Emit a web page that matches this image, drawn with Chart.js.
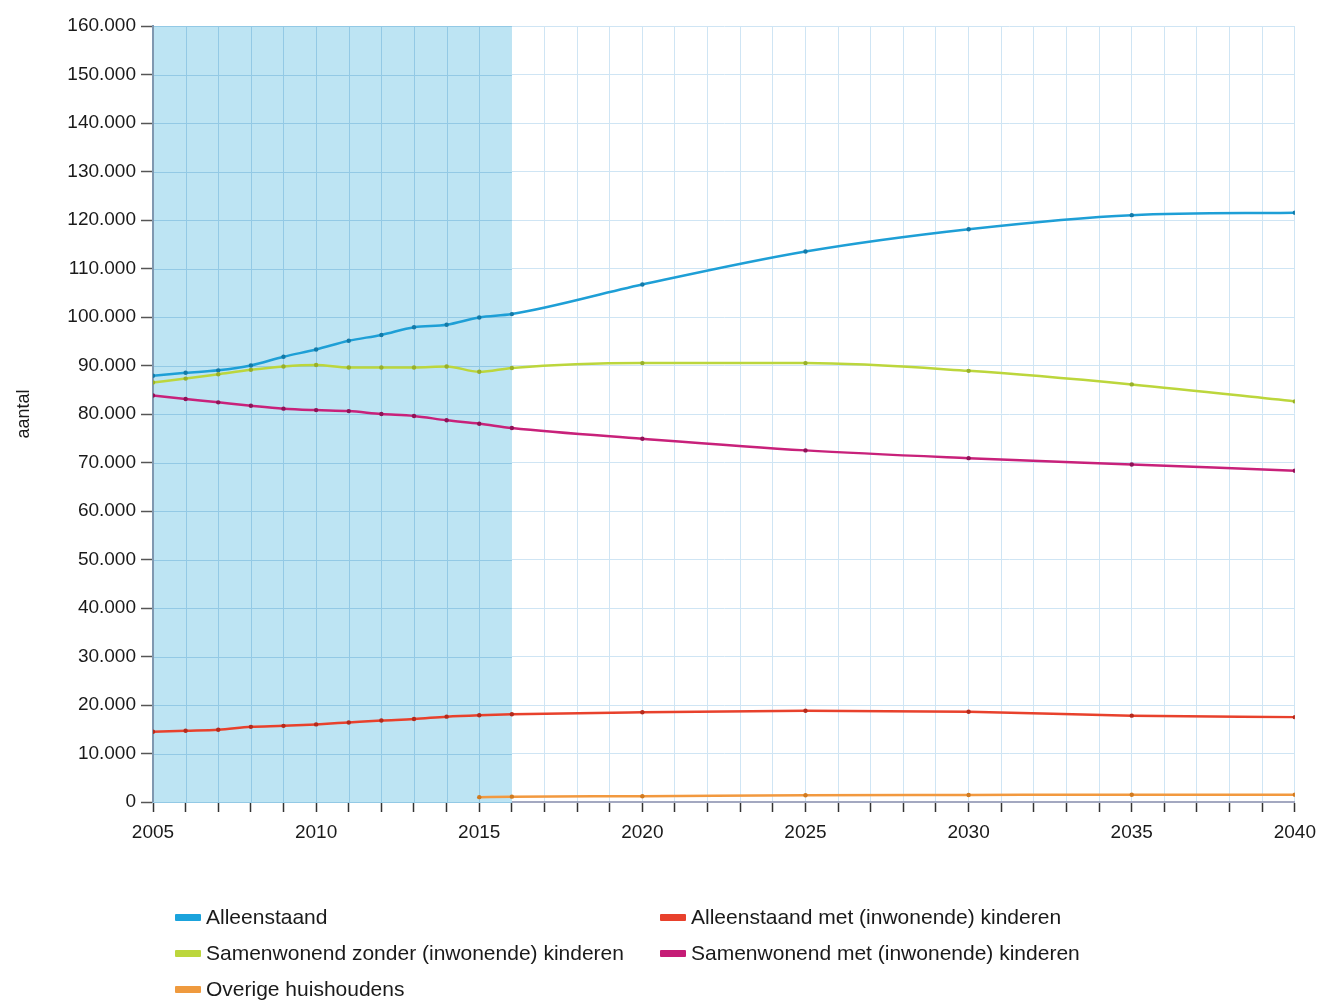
<!DOCTYPE html>
<html>
<head>
<meta charset="utf-8">
<script src="https://cdn.jsdelivr.net/npm/chart.js@4.4.1/dist/chart.umd.min.js"></script>
<style>
  html, body { margin: 0; padding: 0; background: #fff; }
  body { width: 1319px; height: 1001px; position: relative; overflow: hidden; font-family: "Liberation Sans", Arial, sans-serif; }
  #wrap { position: absolute; left: 0; top: 0; width: 1325px; height: 880px; }
  #legend { position: absolute; left: 0; top: 0; width: 1319px; height: 1001px; pointer-events: none; }
  .item { position: absolute; font-size: 21px; color: #1a1a1a; white-space: nowrap; line-height: 24px; }
  .sw { position: absolute; width: 26px; height: 7px; border-radius: 1px; }
</style>
</head>
<body>
<div id="wrap"><canvas id="c" width="1325" height="880"></canvas></div>
<div id="legend"></div>
<script>
// ---------- data ----------
const years = [2005, 2006, 2007, 2008, 2009, 2010, 2011, 2012, 2013, 2014, 2015, 2016, 2020, 2025, 2030, 2035, 2040];
const seriesNames = [
  "Alleenstaand",
  "Alleenstaand met (inwonende) kinderen",
  "Samenwonend zonder (inwonende) kinderen",
  "Samenwonend met (inwonende) kinderen",
  "Overige huishoudens"
];
const alleenstaand = [87900, 88500, 89000, 90000, 91800, 93300, 95100, 96300, 97900, 98400, 99900, 100600, 106700, 113500, 118100, 121000, 121500];
const alleenstaandMetKinderen = [14500, 14700, 14900, 15500, 15700, 16000, 16400, 16800, 17100, 17600, 17900, 18100, 18500, 18800, 18600, 17800, 17500];
const samenZonderKinderen = [86500, 87300, 88200, 89100, 89800, 90100, 89600, 89600, 89600, 89800, 88700, 89500, 90500, 90500, 88900, 86100, 82600];
const samenMetKinderen = [83800, 83100, 82400, 81700, 81100, 80800, 80600, 80000, 79600, 78700, 78000, 77100, 74900, 72500, 70900, 69600, 68300];
const overige = [null, null, null, null, null, null, null, null, null, null, 1000, 1100, 1200, 1400, 1450, 1500, 1500];
const shadeFrom = 2005, shadeTo = 2016;
const yTickMax = 160000, yTickStep = 10000;
const yTitle = "aantal";

// ---------- styles ----------
const lineColors = ['#1e9fd6', '#e8412c', '#bcd63c', '#c8217a', '#f2993f'];
const pointColors = ['#137aa8', '#b52a1c', '#98b02a', '#8f1357', '#d07a20'];
const seriesData = [alleenstaand, alleenstaandMetKinderen, samenZonderKinderen, samenMetKinderen, overige];
const drawOrder = [4, 1, 3, 2, 0];

function fmt(v) {
  return String(Math.round(v)).replace(/\B(?=(\d{3})+(?!\d))/g, '.');
}

const datasets = drawOrder.map(i => ({
  label: seriesNames[i],
  data: years.map((x, k) => ({ x: x, y: seriesData[i][k] })),
  borderColor: lineColors[i],
  backgroundColor: lineColors[i],
  borderWidth: 2.5,
  pointRadius: 2.2,
  pointBackgroundColor: pointColors[i],
  pointBorderWidth: 0,
  cubicInterpolationMode: 'monotone',
  spanGaps: false,
  fill: false
}));

const shadePlugin = {
  id: 'shade',
  beforeDatasetsDraw(chart) {
    const { ctx, chartArea, scales } = chart;
    const x0 = scales.x.getPixelForValue(shadeFrom);
    const x1 = scales.x.getPixelForValue(shadeTo);
    ctx.save();
    ctx.fillStyle = '#bde4f3';
    ctx.fillRect(x0, chartArea.top, x1 - x0, chartArea.bottom - chartArea.top);
    ctx.strokeStyle = '#93c9e5';
    ctx.lineWidth = 1;
    scales.y.ticks.forEach(t => {
      const y = Math.round(scales.y.getPixelForValue(t.value)) + 0.5;
      ctx.beginPath(); ctx.moveTo(x0, y); ctx.lineTo(x1, y); ctx.stroke();
    });
    scales.x.ticks.forEach(t => {
      if (t.value > shadeFrom && t.value < shadeTo) {
        const x = Math.round(scales.x.getPixelForValue(t.value)) + 0.5;
        ctx.beginPath(); ctx.moveTo(x, chartArea.top); ctx.lineTo(x, chartArea.bottom); ctx.stroke();
      }
    });
    ctx.strokeStyle = '#8098b0';
    ctx.lineWidth = 2;
    ctx.beginPath(); ctx.moveTo(chartArea.left, chartArea.top); ctx.lineTo(chartArea.left, chartArea.bottom); ctx.stroke();
    ctx.restore();
  }
};

Chart.defaults.font.family = '"Liberation Sans", Arial, sans-serif';
Chart.defaults.color = '#1a1a1a';

new Chart(document.getElementById('c'), {
  type: 'line',
  data: { datasets: datasets },
  options: {
    responsive: false,
    animation: false,
    layout: { padding: { left: 0, right: 25, top: 26, bottom: 0 } },
    plugins: { legend: { display: false }, tooltip: { enabled: false } },
    scales: {
      x: {
        type: 'linear',
        min: years[0],
        max: years[years.length - 1],
        afterFit(s) { s.height = 78; },
        ticks: {
          stepSize: 1,
          autoSkip: false,
          maxRotation: 0,
          padding: 9,
          font: { size: 19 },
          color: '#1a1a1a',
          callback: v => (v % 5 === 0 ? String(v) : '')
        },
        grid: {
          color: '#cfe5f4',
          lineWidth: 1,
          drawTicks: true,
          tickLength: 10,
          tickColor: '#333',
          tickWidth: 1.5
        },
        border: { display: true, color: '#a3a8c0', width: 2 }
      },
      y: {
        min: 0,
        max: yTickMax,
        afterFit(s) { s.width = 153; },
        title: { display: true, text: yTitle, font: { size: 18 }, color: '#1a1a1a', padding: { top: 13, bottom: 0 } },
        ticks: {
          stepSize: yTickStep,
          font: { size: 19 },
          color: '#1a1a1a',
          padding: 5,
          callback: v => fmt(v)
        },
        grid: {
          color: '#cfe5f4',
          lineWidth: 1,
          drawTicks: true,
          tickLength: 12,
          tickColor: '#555',
          tickWidth: 1.5
        },
        border: { display: true, color: '#8098b0', width: 2 }
      }
    }
  },
  plugins: [shadePlugin]
});

// ---------- legend (HTML, from the same arrays) ----------
const legendLayout = [
  { i: 0, x: 175, y: 917 },
  { i: 1, x: 660, y: 917 },
  { i: 2, x: 175, y: 953 },
  { i: 3, x: 660, y: 953 },
  { i: 4, x: 175, y: 989 }
];
const legendColors = ['#1ba3dc', '#e8412c', '#bcd63c', '#c51c76', '#ef9a3e'];
const lg = document.getElementById('legend');
legendLayout.forEach(L => {
  const sw = document.createElement('div');
  sw.className = 'sw';
  sw.style.left = L.x + 'px';
  sw.style.top = (L.y - 3) + 'px';
  sw.style.background = legendColors[L.i];
  lg.appendChild(sw);
  const t = document.createElement('div');
  t.className = 'item';
  t.style.left = (L.x + 31) + 'px';
  t.style.top = (L.y - 12) + 'px';
  t.textContent = seriesNames[L.i];
  lg.appendChild(t);
});
</script>
</body>
</html>
